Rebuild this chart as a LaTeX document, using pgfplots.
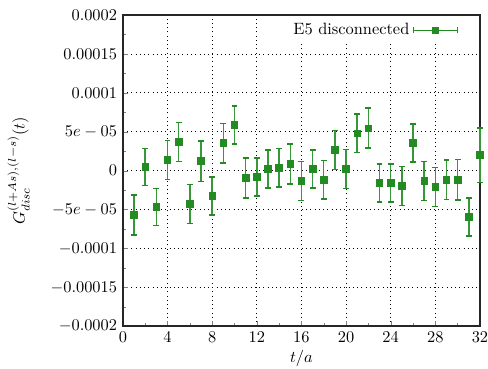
\documentclass[border=0pt]{standalone}
\usepackage{pgfplots}
\pgfplotsset{compat=1.18}
\usepackage{pgfplotstable}
\definecolor{fgreen}{RGB}{34,139,34}
\pgfplotstableread{
t v e
1 -5.68e-5 2.56e-5
2 0.47e-5 2.37e-5
3 -4.66e-5 2.40e-5
4 1.37e-5 2.50e-5
5 3.68e-5 2.48e-5
6 -4.27e-5 2.50e-5
7 1.24e-5 2.60e-5
8 -3.25e-5 2.44e-5
9 3.55e-5 2.54e-5
10 5.86e-5 2.44e-5
11 -0.94e-5 2.60e-5
12 -0.81e-5 2.47e-5
13 0.22e-5 2.44e-5
14 0.35e-5 2.47e-5
15 0.86e-5 2.54e-5
16 -1.32e-5 2.52e-5
17 0.22e-5 2.46e-5
18 -1.19e-5 2.47e-5
19 2.65e-5 2.50e-5
20 0.22e-5 2.52e-5
21 4.83e-5 2.46e-5
22 5.47e-5 2.56e-5
23 -1.58e-5 2.47e-5
24 -1.58e-5 2.47e-5
25 -1.96e-5 2.50e-5
26 3.55e-5 2.46e-5
27 -1.32e-5 2.50e-5
28 -2.09e-5 2.50e-5
29 -1.19e-5 2.54e-5
30 -1.19e-5 2.60e-5
31 -5.94e-5 2.46e-5
32 2.01e-5 3.50e-5
}\datatable
\begin{document}
\begin{tikzpicture}
\begin{axis}[
  scale only axis,
  width=218pt, height=190pt,
  xmin=0, xmax=32, ymin=-0.0002, ymax=0.0002,
  clip=false,
  xtick={0,4,...,32},
  minor x tick num=1,
  ytick={-0.0002,-0.00015,-0.0001,-0.00005,0,0.00005,0.0001,0.00015,0.0002},
  yticklabels={$-0.0002$,$-0.00015$,$-0.0001$,$-5e-05$,$0$,$5e-05$,$0.0001$,$0.00015$,$0.0002$},
  minor y tick num=1,
  scaled y ticks=false,
  tick pos=left,
  tick align=inside,
  major tick length=3pt, minor tick length=1.8pt,
  axis line style={line width=1pt, black!85},
  grid=major,
  major grid style={black, line width=0.55pt, dash pattern=on 0.6pt off 2pt},
  xlabel={$t/a$},
  ylabel={$G^{(l+As),(l-s)}_{disc}(t)$},
  xlabel style={yshift=2pt},
  ylabel shift=6pt,
  legend plot pos=right,
  legend style={at={(rel axis cs:0.945,0.99)}, anchor=north east, draw=none, fill=white, inner sep=1pt, row sep=0pt},
  legend cell align=right,
  legend image code/.code={
    \draw[fgreen, line width=0.9pt] (0pt,0pt) -- (27pt,0pt);
    \draw[fgreen, line width=0.9pt] (0pt,-1.8pt) -- (0pt,1.8pt);
    \draw[fgreen, line width=0.9pt] (27pt,-1.8pt) -- (27pt,1.8pt);
    \fill[fgreen] (11.5pt,-2pt) rectangle (15.5pt,2pt);
  },
]
\coordinate (sw) at (rel axis cs:0,0);
\coordinate (ne) at (rel axis cs:1,1);
\addplot[only marks, mark=square*, mark size=2pt, color=fgreen, mark options={fill=fgreen, draw=fgreen},
  error bars/.cd, y dir=both, y explicit,
  error bar style={line width=0.9pt, fgreen!90},
  error mark options={rotate=90, mark size=1.8pt, line width=0.9pt, fgreen}]
  table[x=t, y=v, y error=e] {\datatable};
\addlegendentry{E5 disconnected}
\end{axis}
\pgfresetboundingbox
\path ([shift={(-75pt,-25.6pt)}]sw) rectangle ([shift={(4.9pt,9.2pt)}]ne);
\end{tikzpicture}
\end{document}
